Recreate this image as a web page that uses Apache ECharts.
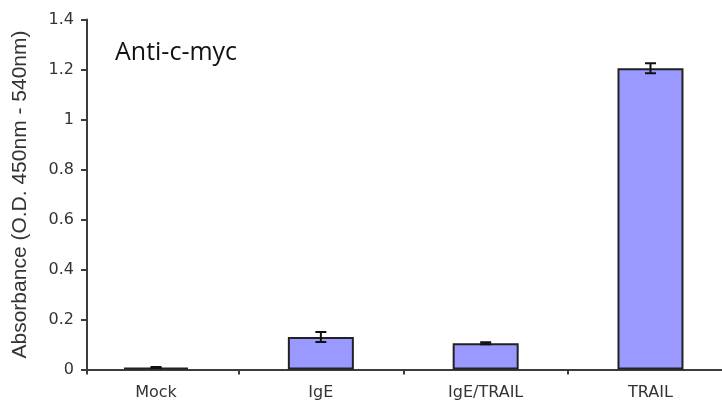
<!DOCTYPE html>
<html>
<head>
<meta charset="utf-8">
<script src="https://cdn.jsdelivr.net/npm/echarts@6/dist/echarts.min.js"></script>
<style>
  html, body { margin: 0; padding: 0; background: #fff; }
  #chart { width: 722px; height: 417px; }
</style>
</head>
<body>
<div id="chart"></div>
<script>
// Treatment groups, mean absorbance and error (half-range of the error bar)
const categories = ['Mock', 'IgE', 'IgE/TRAIL', 'TRAIL'];
const means = [0.008, 0.13, 0.105, 1.205];
const errors = [0.002, 0.02, 0.004, 0.02];
const yTicks = [0, 0.2, 0.4, 0.6, 0.8, 1, 1.2, 1.4];

const positions = categories.map((_, i) => i);
const barData = positions.map((x, i) => [x, means[i]]);
const errData = positions.map((x, i) => [x, means[i] - errors[i], means[i] + errors[i]]);

const axisColor = '#3c3c3c';
const labelFont = {
  color: '#333',
  fontFamily: 'DejaVu Sans, Liberation Sans, sans-serif',
  fontSize: 16
};

const chart = echarts.init(document.getElementById('chart'), null, { renderer: 'canvas' });

chart.setOption({
  animation: false,
  backgroundColor: '#fff',
  title: {
    text: 'Anti-c-myc',
    left: 110,
    top: 35,
    textStyle: {
      fontFamily: 'Open Sans, sans-serif',
      fontWeight: 'normal',
      fontSize: 25,
      color: '#111'
    }
  },
  grid: { left: 87, right: 0, top: 19.5, height: 350, outerBoundsMode: 'none', containLabel: false },
  xAxis: {
    type: 'value',
    min: -0.419,
    max: 3.434,
    splitLine: { show: false },
    axisLine: { show: true, onZero: false, lineStyle: { color: axisColor, width: 2 } },
    axisTick: {
      show: true,
      length: 5,
      customValues: [-0.419, 0.5, 1.5, 2.5],
      lineStyle: { color: axisColor, width: 2 }
    },
    axisLabel: {
      ...labelFont,
      margin: 15,
      customValues: positions,
      formatter: v => categories[Math.round(v)]
    }
  },
  yAxis: {
    type: 'value',
    min: yTicks[0],
    max: yTicks[yTicks.length - 1],
    interval: 0.2,
    name: 'Absorbance (O.D. 450nm - 540nm)',
    nameLocation: 'middle',
    nameGap: 56,
    nameTextStyle: {
      fontFamily: 'Liberation Sans, Arial, sans-serif',
      fontSize: 21,
      color: '#333'
    },
    splitLine: { show: false },
    axisLine: { show: true, onZero: false, lineStyle: { color: axisColor, width: 2 } },
    axisTick: { show: true, length: 6, lineStyle: { color: axisColor, width: 2 } },
    axisLabel: {
      ...labelFont,
      margin: 13,
      formatter: v => String(+v.toFixed(1))
    }
  },
  series: [
    {
      type: 'bar',
      data: barData,
      barWidth: 66,
      itemStyle: { color: '#9999ff', borderColor: '#222', borderWidth: 2 }
    },
    {
      type: 'custom',
      data: errData,
      z: 5,
      renderItem: (params, api) => {
        const x = api.value(0);
        const lo = api.coord([x, api.value(1)]);
        const hi = api.coord([x, api.value(2)]);
        const half = 5.5;
        const style = { stroke: '#111', lineWidth: 2 };
        return {
          type: 'group',
          children: [
            { type: 'line', shape: { x1: lo[0], y1: lo[1], x2: hi[0], y2: hi[1] }, style },
            { type: 'line', shape: { x1: hi[0] - half, y1: hi[1], x2: hi[0] + half, y2: hi[1] }, style },
            { type: 'line', shape: { x1: lo[0] - half, y1: lo[1], x2: lo[0] + half, y2: lo[1] }, style }
          ]
        };
      }
    }
  ]
});
</script>
</body>
</html>
